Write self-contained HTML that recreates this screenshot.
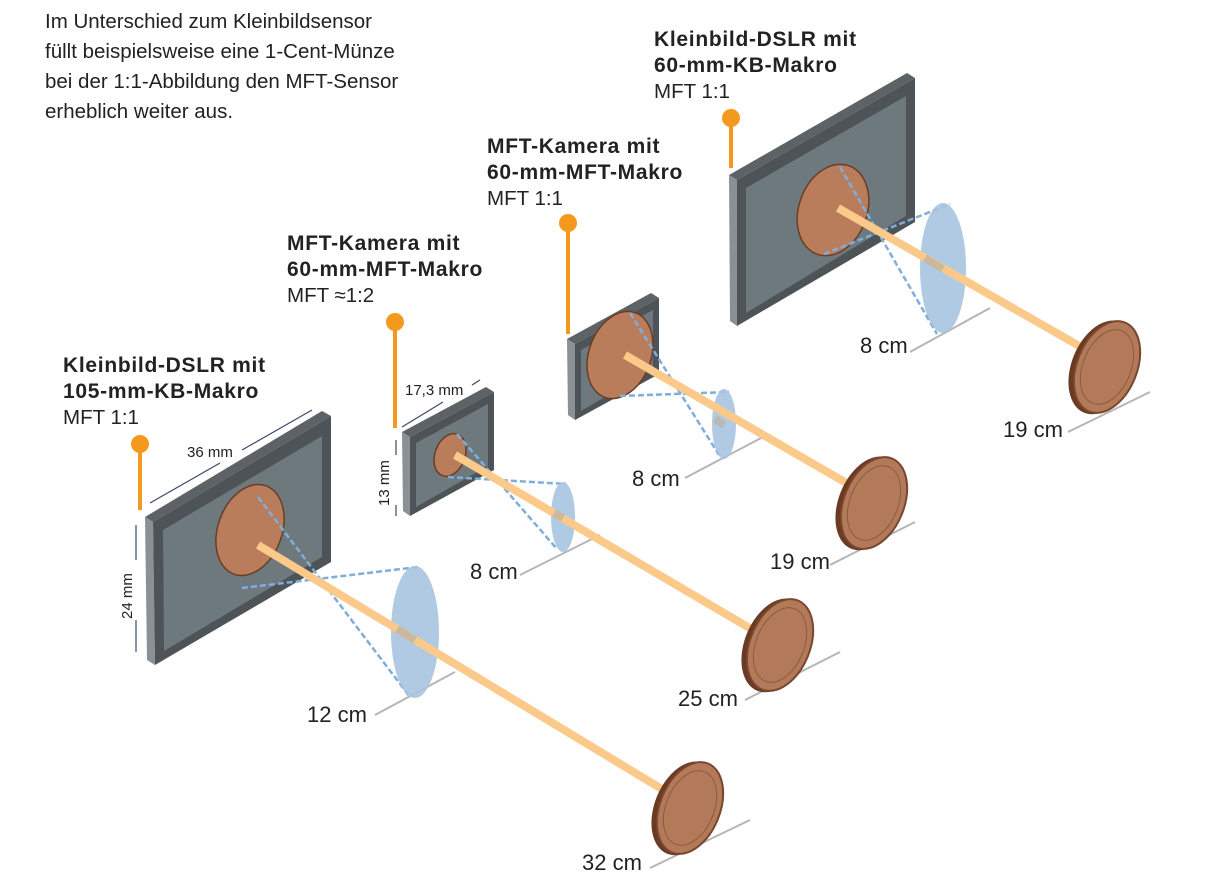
<!DOCTYPE html>
<html><head><meta charset="utf-8"><style>
html,body{margin:0;padding:0;background:#fff}
svg{display:block}
text{font-family:"Liberation Sans",sans-serif;fill:#222}
.h{font-weight:bold;font-size:21px;letter-spacing:0.7px}
.n{font-size:20.5px}
.d{font-size:22px}
.m{font-size:15px;fill:#222}
</style></head><body>
<svg width="1206" height="896" viewBox="0 0 1206 896" xmlns="http://www.w3.org/2000/svg">

<text class="n" x="45" y="28">Im Unterschied zum Kleinbildsensor</text>
<text class="n" x="45" y="58">füllt beispielsweise eine 1-Cent-Münze</text>
<text class="n" x="45" y="88">bei der 1:1-Abbildung den MFT-Sensor</text>
<text class="n" x="45" y="118">erheblich weiter aus.</text>

<text class="h" x="63" y="372">Kleinbild-DSLR mit</text>
<text class="h" x="63" y="398">105-mm-KB-Makro</text>
<text class="n" x="63" y="424">MFT 1:1</text>

<text class="h" x="287" y="250">MFT-Kamera mit</text>
<text class="h" x="287" y="276">60-mm-MFT-Makro</text>
<text class="n" x="287" y="302">MFT ≈1:2</text>

<text class="h" x="487" y="153">MFT-Kamera mit</text>
<text class="h" x="487" y="179">60-mm-MFT-Makro</text>
<text class="n" x="487" y="205">MFT 1:1</text>

<text class="h" x="654" y="46">Kleinbild-DSLR mit</text>
<text class="h" x="654" y="72">60-mm-KB-Makro</text>
<text class="n" x="654" y="98">MFT 1:1</text>

<g stroke="#f39a1e" stroke-width="4" fill="#f39a1e">
<line x1="140" y1="444" x2="140" y2="510"/><circle cx="140" cy="444" r="9" stroke="none"/>
<line x1="395" y1="322" x2="395" y2="428"/><circle cx="395" cy="322" r="9" stroke="none"/>
<line x1="568" y1="223" x2="568" y2="334"/><circle cx="568" cy="223" r="9" stroke="none"/>
<line x1="731" y1="118" x2="731" y2="168"/><circle cx="731" cy="118" r="9" stroke="none"/>
</g>

<g stroke="#b5b5b5" stroke-width="2">
<line x1="375" y1="715" x2="455" y2="672"/>
<line x1="650" y1="868" x2="750" y2="820"/>
<line x1="520" y1="575" x2="600" y2="535"/>
<line x1="745" y1="700" x2="840" y2="652"/>
<line x1="685" y1="478" x2="765" y2="436"/>
<line x1="830" y1="565" x2="915" y2="522"/>
<line x1="910" y1="352" x2="990" y2="308"/>
<line x1="1068" y1="432" x2="1150" y2="392"/>
</g>
<text class="d" x="307" y="722">12 cm</text>
<text class="d" x="582" y="870">32 cm</text>
<text class="d" x="470" y="579">8 cm</text>
<text class="d" x="678" y="706">25 cm</text>
<text class="d" x="632" y="486">8 cm</text>
<text class="d" x="770" y="569">19 cm</text>
<text class="d" x="860" y="353">8 cm</text>
<text class="d" x="1003" y="437">19 cm</text>

<g stroke="#3a4a6a" stroke-width="1.2">
<line x1="150" y1="503" x2="220" y2="463"/><line x1="242" y1="450" x2="312" y2="410"/>
<line x1="136" y1="525" x2="136" y2="560"/><line x1="136" y1="620" x2="136" y2="652"/>
<line x1="402" y1="427" x2="443" y2="402"/><line x1="472" y1="385" x2="480" y2="380"/>
<line x1="396" y1="440" x2="396" y2="455"/><line x1="396" y1="505" x2="396" y2="516"/>
</g>
<text class="m" x="187" y="457">36 mm</text>
<text class="m" x="405" y="395">17,3 mm</text>
<text class="m" transform="translate(132,619) rotate(-90)">24 mm</text>
<text class="m" transform="translate(389,506) rotate(-90)">13 mm</text>

<polygon points="145,517 322,411 331,416 153,522" fill="#5d6266"/>
<polygon points="145,517 153,522 155,665 147,660" fill="#8b9094"/>
<polygon points="153,522 331,416 331,562 155,665" fill="#4d5357"/>
<polygon points="163,530 322,436 322,557 164,651" fill="#6d797d"/>
<polygon points="402,432 486,387 494,392 410,437" fill="#5d6266"/>
<polygon points="402,432 410,437 410,516 403,511" fill="#8b9094"/>
<polygon points="410,437 494,392 494,470 410,516" fill="#4d5357"/>
<polygon points="416,443 488,404 488,466 416,507" fill="#6d797d"/>
<polygon points="567,339 651,293 659,298 575,344" fill="#5d6266"/>
<polygon points="567,339 575,344 575,420 568,415" fill="#8b9094"/>
<polygon points="575,344 659,298 659,374 575,420" fill="#4d5357"/>
<polygon points="581,350 653,310 653,369 581,411" fill="#6d797d"/>
<polygon points="729,175 907,73 915,78 737,180" fill="#5d6266"/>
<polygon points="729,175 737,180 737,326 730,321" fill="#8b9094"/>
<polygon points="737,180 915,78 915,222 737,326" fill="#4d5357"/>
<polygon points="746,188 906,96 906,216 746,313" fill="#6d797d"/>

<g stroke="#6b3d25" stroke-width="1.5" fill="#b97d5c">
<ellipse cx="250" cy="530" rx="32" ry="47" transform="rotate(20 250 530)"/>
<ellipse cx="450" cy="455" rx="15" ry="22" transform="rotate(20 450 455)"/>
<ellipse cx="620" cy="355" rx="31" ry="45" transform="rotate(20 620 355)"/>
<ellipse cx="833" cy="210" rx="34" ry="47" transform="rotate(20 833 210)"/>
</g>

<g stroke="#7eaedc" stroke-width="2.5" stroke-dasharray="6,3" fill="none">
<path d="M258,497 L410,697 M242,588 L418,567"/>
<path d="M457,434 L557,549 M448,477 L566,484"/>
<path d="M630,313 L719,455 M620,396 L729,392"/>
<path d="M840,167 L937,334 M824,254 L950,204"/>
</g>

<g fill="#a8c4e0" opacity="0.9">
<ellipse cx="415" cy="632" rx="24" ry="66"/>
<ellipse cx="563" cy="517" rx="12" ry="35"/>
<ellipse cx="724" cy="424" rx="12" ry="35"/>
<ellipse cx="943" cy="268" rx="23" ry="65"/>
</g>

<g stroke="#fbc98a" stroke-width="8">
<line x1="258" y1="545" x2="680" y2="800"/>
<line x1="455" y1="455" x2="770" y2="640"/>
<line x1="625" y1="355" x2="862" y2="492"/>
<line x1="838" y1="208" x2="1095" y2="355"/>
</g>
<g stroke="#b9b3a4" stroke-width="8" opacity="0.7">
<line x1="397" y1="629" x2="415" y2="640"/>
<line x1="554" y1="513" x2="563" y2="518"/>
<line x1="715" y1="419" x2="724" y2="425"/>
<line x1="925" y1="258" x2="943" y2="269"/>
</g>

<g>
<g transform="translate(690,808) rotate(22)"><ellipse cx="-4" cy="2" rx="31" ry="49" fill="#6a3a22"/><ellipse cx="0" cy="0" rx="30" ry="48" fill="#b37a5a" stroke="#7a4630" stroke-width="2"/><ellipse cx="0" cy="0" rx="24" ry="39" fill="none" stroke="#8c5a40" stroke-width="1"/></g>
<g transform="translate(780,645) rotate(22)"><ellipse cx="-4" cy="2" rx="31" ry="49" fill="#6a3a22"/><ellipse cx="0" cy="0" rx="30" ry="48" fill="#b37a5a" stroke="#7a4630" stroke-width="2"/><ellipse cx="0" cy="0" rx="24" ry="39" fill="none" stroke="#8c5a40" stroke-width="1"/></g>
<g transform="translate(874,503) rotate(22)"><ellipse cx="-4" cy="2" rx="31" ry="49" fill="#6a3a22"/><ellipse cx="0" cy="0" rx="30" ry="48" fill="#b37a5a" stroke="#7a4630" stroke-width="2"/><ellipse cx="0" cy="0" rx="24" ry="39" fill="none" stroke="#8c5a40" stroke-width="1"/></g>
<g transform="translate(1107,367) rotate(22)"><ellipse cx="-4" cy="2" rx="31" ry="49" fill="#6a3a22"/><ellipse cx="0" cy="0" rx="30" ry="48" fill="#b37a5a" stroke="#7a4630" stroke-width="2"/><ellipse cx="0" cy="0" rx="24" ry="39" fill="none" stroke="#8c5a40" stroke-width="1"/></g>
</g>
</svg>
</body></html>
